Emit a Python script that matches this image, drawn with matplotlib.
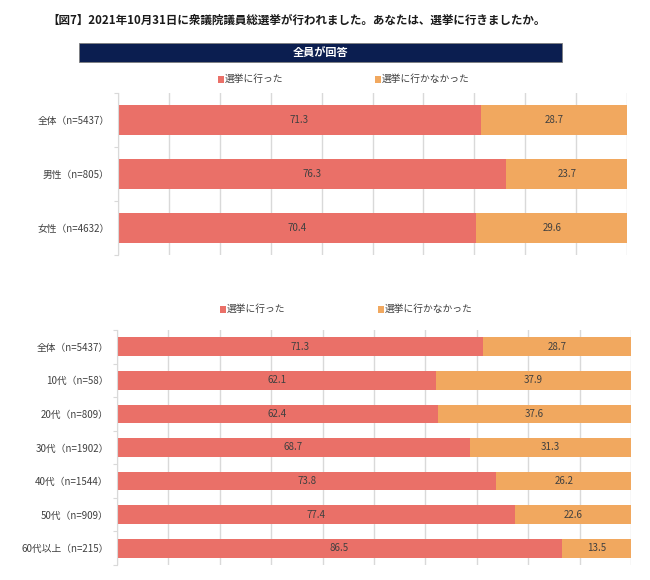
import matplotlib.pyplot as plt
from matplotlib.patches import Rectangle

plt.rcParams['font.family'] = ['Noto Sans CJK JP', 'DejaVu Sans']

title = "【図7】2021年10月31日に衆議院議員総選挙が行われました。あなたは、選挙に行きましたか。"
banner = "全員が回答"
series = ["選挙に行った", "選挙に行かなかった"]

sex_labels = ["全体（n=5437）", "男性（n=805）", "女性（n=4632）"]
sex_went = [71.3, 76.3, 70.4]
sex_not = [28.7, 23.7, 29.6]

age_labels = ["全体（n=5437）", "10代（n=58）", "20代（n=809）", "30代（n=1902）",
              "40代（n=1544）", "50代（n=909）", "60代以上（n=215）"]
age_went = [71.3, 62.1, 62.4, 68.7, 73.8, 77.4, 86.5]
age_not = [28.7, 37.9, 37.6, 31.3, 26.2, 22.6, 13.5]

RED = "#EA7068"
ORANGE = "#F1A85F"
TXT = "#404040"
GRID = "#D9D9D9"

W, H = 650, 580
fig = plt.figure(figsize=(6.5, 5.8), dpi=100)


def box(x0, y0, x1, y1):
    # pixel box (top-left origin) -> figure fraction rect
    return [x0 / W, 1 - y1 / H, (x1 - x0) / W, (y1 - y0) / H]


def draw(ax, labels, went, notw, bar_h):
    n = len(labels)
    ys = list(range(n))
    ax.barh(ys, went, height=bar_h, color=RED, zorder=2)
    ax.barh(ys, notw, left=went, height=bar_h, color=ORANGE, zorder=2)
    for y, a, b in zip(ys, went, notw):
        ax.text(a / 2, y, f"{a:.1f}", ha="center", va="center", fontsize=7, color=TXT, zorder=3)
        ax.text(a + b / 2, y, f"{b:.1f}", ha="center", va="center", fontsize=7, color=TXT, zorder=3)
    ax.set_xlim(0, 100)
    ax.set_ylim(n - 0.5, -0.5)
    ax.set_xticks(range(0, 101, 10))
    ax.xaxis.grid(True, color=GRID, linewidth=1, zorder=0)
    ax.tick_params(axis="x", length=0, labelbottom=False)
    for s in ["top", "right", "bottom"]:
        ax.spines[s].set_visible(False)
    ax.spines["left"].set_color(GRID)
    ax.set_yticks([i - 0.5 for i in range(n + 1)])
    ax.set_yticklabels([])
    ax.tick_params(axis="y", which="major", length=3, color=GRID)
    ax.set_yticks(ys, minor=True)
    ax.set_yticklabels(labels, minor=True, fontsize=7, color=TXT)
    ax.tick_params(axis="y", which="minor", length=0, pad=6)


def legend(xs, y_px):
    for x, name, c in zip(xs, series, [RED, ORANGE]):
        fig.patches.append(Rectangle((x / W, 1 - (y_px + 3.5) / H), 6 / W, 7 / H,
                                     transform=fig.transFigure, facecolor=c, edgecolor="none"))
        fig.text((x + 7) / W, 1 - y_px / H, name, fontsize=7, color=TXT, ha="left", va="center")


fig.text(47 / W, 1 - 20 / H, title, fontsize=8.3, fontweight="bold", va="center", ha="left", color="#1a1a1a")
fig.patches.append(Rectangle((79 / W, 1 - 62 / H), 483 / W, 19 / H, transform=fig.transFigure,
                             facecolor="#0B1E50", edgecolor="#7f7f7f", linewidth=0.6))
fig.text(321 / W, 1 - 52.5 / H, banner, fontsize=8, fontweight="bold", color="white", ha="center", va="center")

ax1 = fig.add_axes(box(118, 93, 627, 255))
draw(ax1, sex_labels, sex_went, sex_not, 0.55)
legend([218, 375], 79)

ax2 = fig.add_axes(box(117, 330, 631, 565))
draw(ax2, age_labels, age_went, age_not, 0.56)
legend([220, 378], 309)

fig.savefig("out.png", dpi=100)
